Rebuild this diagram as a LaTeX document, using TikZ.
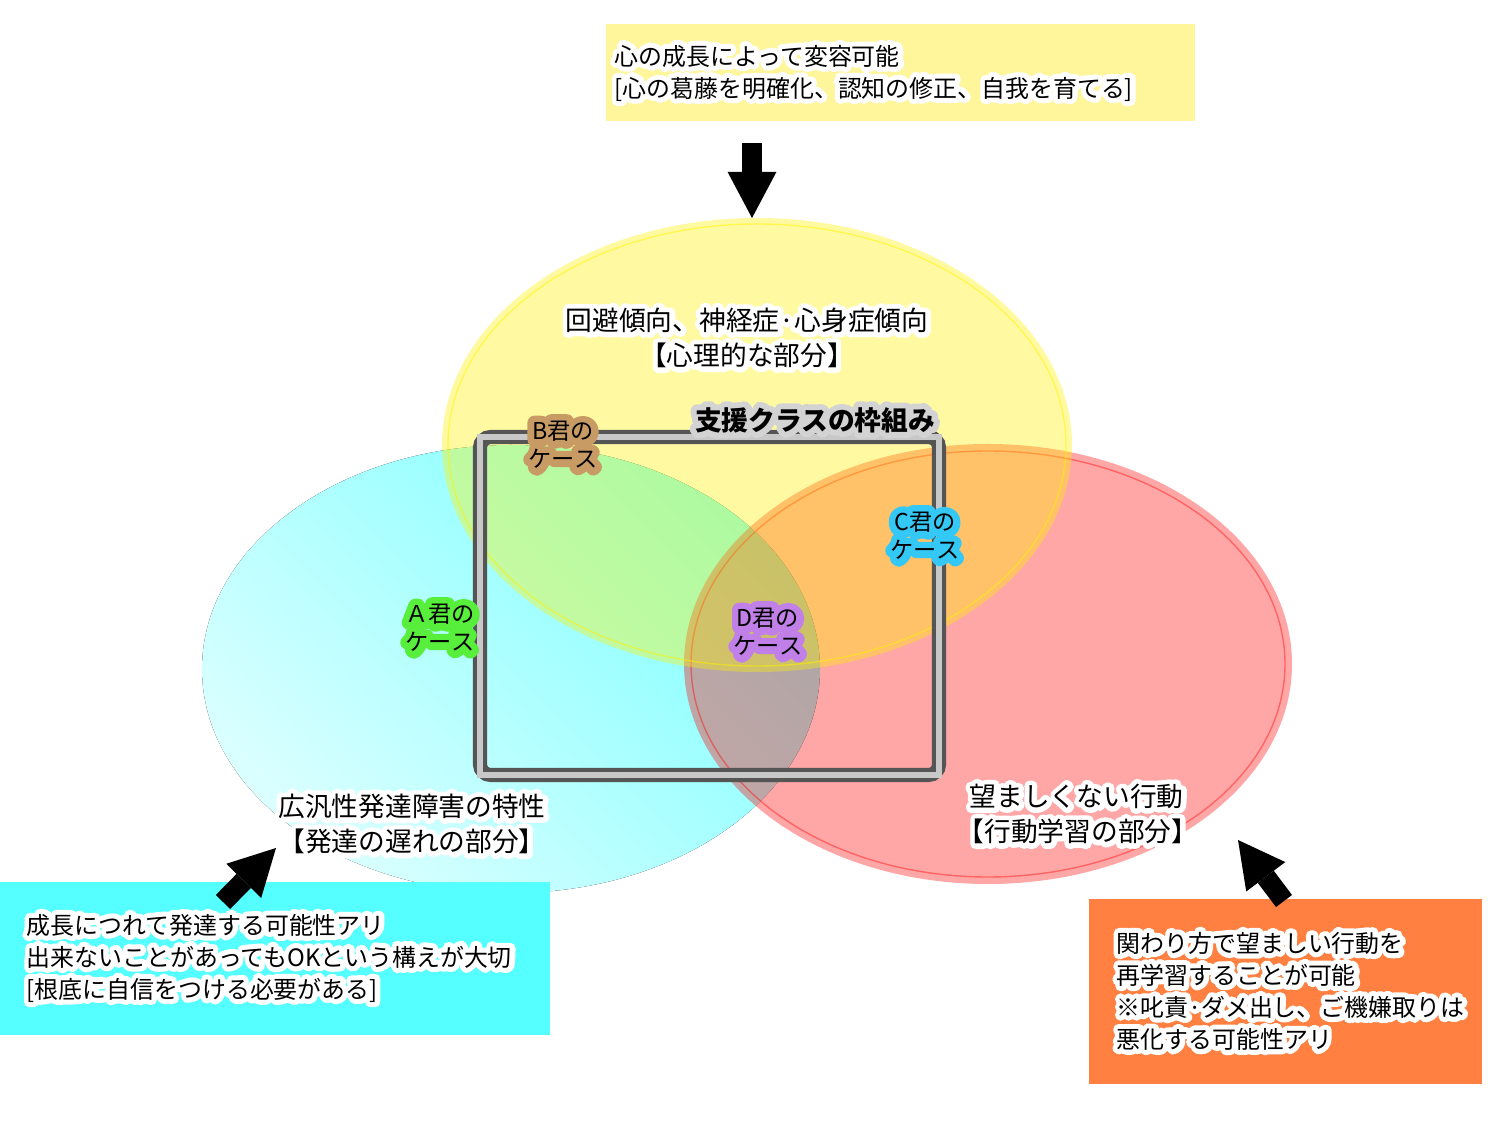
\documentclass[tikz,border=0pt]{standalone}
\usepackage{fontspec}
\setmainfont{Noto Sans CJK JP}
\usepackage{tikz}
\usetikzlibrary{arrows.meta}

\definecolor{topyellow}{HTML}{FFF59A}
\definecolor{boxcyan}{HTML}{55FFFF}
\definecolor{boxorange}{HTML}{FF8040}
\definecolor{framedark}{HTML}{555555}
\definecolor{framelight}{HTML}{C8C8C8}
\definecolor{titlegray}{HTML}{D3D3D3}
\definecolor{caseB}{HTML}{C89B64}
\definecolor{caseC}{HTML}{33C8F5}
\definecolor{caseA}{HTML}{58EE3C}
\definecolor{caseD}{HTML}{C080E8}

% text with a halo: colour, halo width (bp), text
\newcommand{\halo}[3]{\leavevmode\rlap{\special{pdf:literal direct 2 Tr 1 j 1 J #2 w}\textcolor{#1}{#3}\special{pdf:literal direct 0 Tr}}#3}
\newcommand{\wline}[1]{\halo{white}{2.9}{#1}}

\begin{document}
\begin{tikzpicture}[x=0.01cm, y=-0.01cm,
	bigarrow/.style={line width=5.7pt, -{Triangle[length=13.1pt, width=13.9pt, line width=0pt]}},
	boxtext/.style={anchor=west, align=left, inner sep=0pt, font=\fontsize{6.8pt}{9.1pt}\selectfont},
	areatext/.style={align=center, inner sep=0pt, font=\fontsize{7.6pt}{10pt}\selectfont},
	casetext/.style={align=center, inner sep=0pt, font=\fontsize{6.6pt}{8pt}\selectfont}]
	\useasboundingbox (0,0) rectangle (1500,1125);

	% three areas
	\coordinate (dev) at (511, 669);
	\coordinate (beh) at (988, 664);
	\coordinate (psy) at (757, 445);
	\fill[top color=cyan!50, bottom color=cyan!14, shading angle=-45] (dev) ellipse [x radius=309, y radius=224];
	\fill[red, opacity=0.35] (beh) ellipse [x radius=304, y radius=220];
	\draw[red, opacity=0.4, line width=0.4pt] (beh) ellipse [x radius=297, y radius=213];
	\fill[yellow, opacity=0.37] (psy) ellipse [x radius=315, y radius=227];
	\draw[yellow, opacity=0.5, line width=0.4pt] (psy) ellipse [x radius=309, y radius=221];

	% frame of the support class
	\draw[framedark, line width=4pt, rounded corners=3pt] (480, 437) rectangle (939, 775);
	\draw[framelight, line width=1.6pt] (480, 437) rectangle (939, 775);
	\node[inner sep=0pt, font=\fontsize{7.6pt}{9pt}\selectfont\bfseries] (frame) at (815, 420)
		{\halo{titlegray}{3.4}{支援クラスの枠組み}};

	% labels of the areas
	\node[areatext] (psylabel) at (747, 338) {\wline{回避傾向、神経症·心身症傾向}\\\wline{【心理的な部分】}};
	\node[areatext] (devlabel) at (412, 824) {\wline{広汎性発達障害の特性}\\\wline{【発達の遅れの部分】}};
	\node[areatext, align=left, anchor=west] (behlabel) at (969, 814) {\wline{望ましくない行動}\\\kern-0.45em\wline{【行動学習の部分】}};

	% cases
	\node[casetext] (caseb) at (563, 445) {\halo{caseB}{4}{B君の}\\\halo{caseB}{4}{ケース}};
	\node[casetext] (casec) at (925, 536) {\halo{caseC}{4}{C君の}\\\halo{caseC}{4}{ケース}};
	\node[casetext] (casea) at (440, 628) {\halo{caseA}{4}{Ａ君の}\\\halo{caseA}{4}{ケース}};
	\node[casetext] (cased) at (768, 632) {\halo{caseD}{4}{D君の}\\\halo{caseD}{4}{ケース}};

	% boxes with remarks
	\fill[topyellow] (606, 24) rectangle (1195, 121);
	\fill[boxcyan] (0, 882) rectangle (550, 1035);
	\fill[boxorange] (1089, 899) rectangle (1482, 1084);
	\node[boxtext] (psynote) at (614, 73) {\wline{心の成長によって変容可能}\\\wline{[心の葛藤を明確化、認知の修正、自我を育てる]}};
	\node[boxtext] (devnote) at (26, 958) {\wline{成長につれて発達する可能性アリ}\\\wline{出来ないことがあってもOKという構えが大切}\\\wline{[根底に自信をつける必要がある]}};
	\node[boxtext] (behnote) at (1116, 991) {\wline{関わり方で望ましい行動を}\\\wline{再学習することが可能}\\\wline{※叱責·ダメ出し、ご機嫌取りは}\\\wline{悪化する可能性アリ}};

	% arrows
	\coordinate (psyfrom) at (752, 143);
	\coordinate (psyto) at (752, 218);
	\coordinate (devfrom) at (223, 902);
	\coordinate (devto) at (276, 848);
	\coordinate (behfrom) at (1284, 901);
	\coordinate (behto) at (1238, 840);
	\draw[bigarrow] (psyfrom) -- (psyto);
	\draw[bigarrow] (devfrom) -- (devto);
	\draw[bigarrow] (behfrom) -- (behto);
\end{tikzpicture}
\end{document}
